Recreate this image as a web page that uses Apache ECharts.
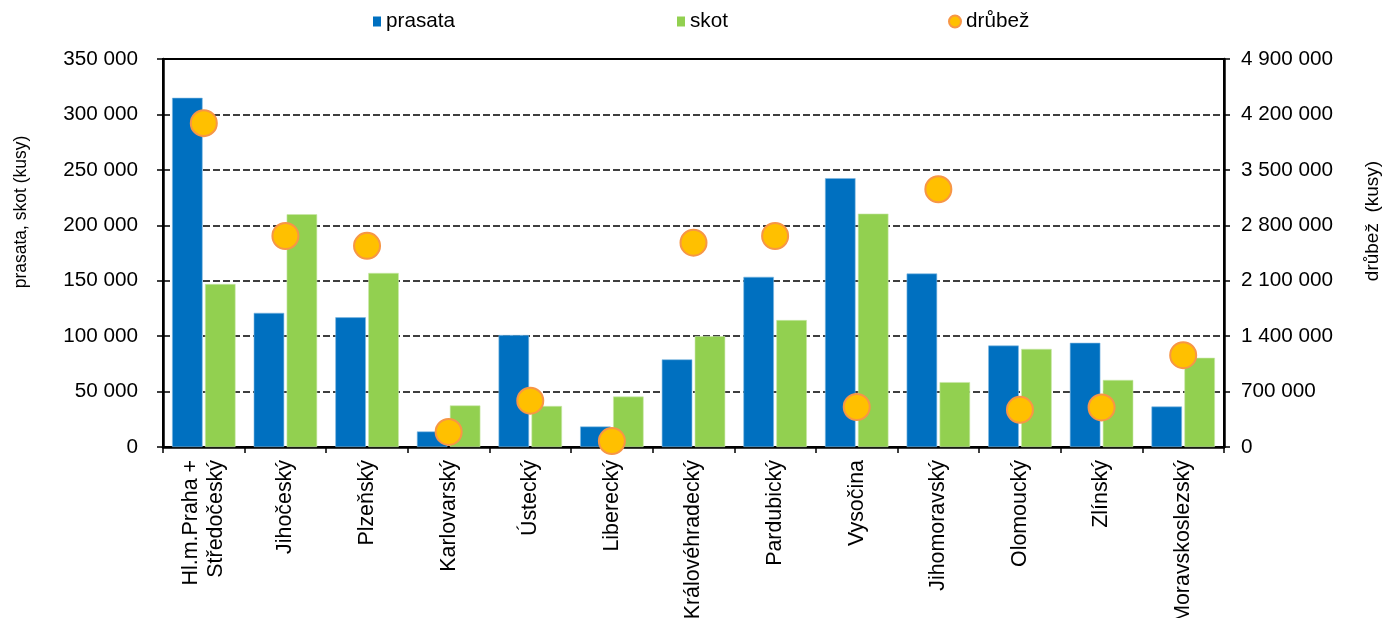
<!DOCTYPE html>
<html>
<head>
<meta charset="utf-8">
<script src="https://cdn.jsdelivr.net/npm/echarts@6/dist/echarts.min.js"></script>
<style>
html,body{margin:0;padding:0;background:#fff;}
#chart{width:1385px;height:618px;}
</style>
</head>
<body>
<div id="chart"></div>
<script>
var categories = ['Hl.m.Praha +\nStředočeský','Jihočeský','Plzeňský','Karlovarský','Ústecký','Liberecký','Královéhradecký','Pardubický','Vysočina','Jihomoravský','Olomoucký','Zlínský','Moravskoslezský'];
var prasata = [315000,121000,117000,14000,101000,18500,79000,153500,242500,156500,91500,94000,36500];
var skot = [147000,210000,157000,37500,37000,45500,100000,114500,210500,58500,88500,60500,80500];
var drubez = [4090000,2665000,2540000,190000,585000,75000,2580000,2665000,505000,3255000,470000,500000,1160000];
var leftTitle = 'prasata, skot (kusy)';
var rightTitle = 'drůbež  (kusy)';

var FONT = "'Liberation Sans', Arial, sans-serif";
function fmt(v){ return String(v).replace(/\B(?=(\d{3})+(?!\d))/g, ' '); }

var chart = echarts.init(document.getElementById('chart'));
var legendText = {fontFamily: FONT, fontSize: 20.7, color: '#000'};
chart.setOption({
  animation: false,
  backgroundColor: '#fff',
  textStyle: {fontFamily: FONT},
  legend: [
    {data: ['prasata'], left: 368, top: 6, itemWidth: 8, itemHeight: 10, textStyle: legendText, icon: 'rect', itemStyle: {borderWidth: 0}},
    {data: ['skot'], left: 672, top: 6, itemWidth: 8, itemHeight: 10, textStyle: legendText, icon: 'rect', itemStyle: {borderWidth: 0}},
    {data: ['drůbež'], left: 943, top: 6, itemWidth: 12, itemHeight: 12, textStyle: legendText, icon: 'circle'}
  ],
  grid: {left: 163, right: 161, top: 59, bottom: 171, containLabel: false, outerBoundsMode: 'none',
         show: true, borderColor: '#000', borderWidth: 2, backgroundColor: 'transparent'},
  xAxis: {
    type: 'category',
    data: categories,
    axisLine: {lineStyle: {color: '#000', width: 2.5}},
    axisTick: {show: true, length: 6, lineStyle: {color: '#000', width: 1.5}},
    axisLabel: {rotate: 90, margin: 13, fontSize: 21.4, color: '#000', fontFamily: FONT, interval: 0, lineHeight: 25}
  },
  yAxis: [
    {
      type: 'value', min: 0, max: 350000, interval: 50000,
      axisLine: {show: true, lineStyle: {color: '#000', width: 2.5}},
      axisTick: {show: true, length: 6, lineStyle: {color: '#000', width: 1.5}},
      axisLabel: {margin: 25, fontSize: 20.7, color: '#000', fontFamily: FONT, formatter: fmt},
      splitLine: {show: true, lineStyle: {color: '#000', width: 1.5, type: [7, 3]}}
    },
    {
      type: 'value', min: 0, max: 4900000, interval: 700000, position: 'right',
      axisLine: {show: true, lineStyle: {color: '#000', width: 2.5}},
      axisTick: {show: true, length: 6, lineStyle: {color: '#000', width: 1.5}},
      axisLabel: {margin: 17, fontSize: 20.7, color: '#000', fontFamily: FONT, formatter: fmt},
      splitLine: {show: false}
    }
  ],
  series: [
    {name: 'prasata', type: 'bar', data: prasata, barWidth: 30.5, barGap: '8%',
     itemStyle: {color: '#0070C0', borderColor: '#7fb8e0', borderWidth: 0.6}},
    {name: 'skot', type: 'bar', data: skot, barWidth: 30.5, barGap: '8%',
     itemStyle: {color: '#92D050', borderColor: '#c9e8a8', borderWidth: 0.6}},
    {name: 'drůbež', type: 'scatter', yAxisIndex: 1, data: drubez, symbol: 'circle', symbolSize: 26, z: 5,
     itemStyle: {color: '#FFC000', borderColor: '#F79646', borderWidth: 2, opacity: 1}}
  ],
  graphic: [
    {type: 'text', x: 21, y: 212, rotation: Math.PI/2,
     style: {text: leftTitle, font: '17.5px ' + FONT, fill: '#000', textAlign: 'center', textVerticalAlign: 'middle'}},
    {type: 'text', x: 1373, y: 221, rotation: Math.PI/2,
     style: {text: rightTitle, font: '19px ' + FONT, fill: '#000', textAlign: 'center', textVerticalAlign: 'middle'}}
  ]
});
</script>
</body>
</html>
